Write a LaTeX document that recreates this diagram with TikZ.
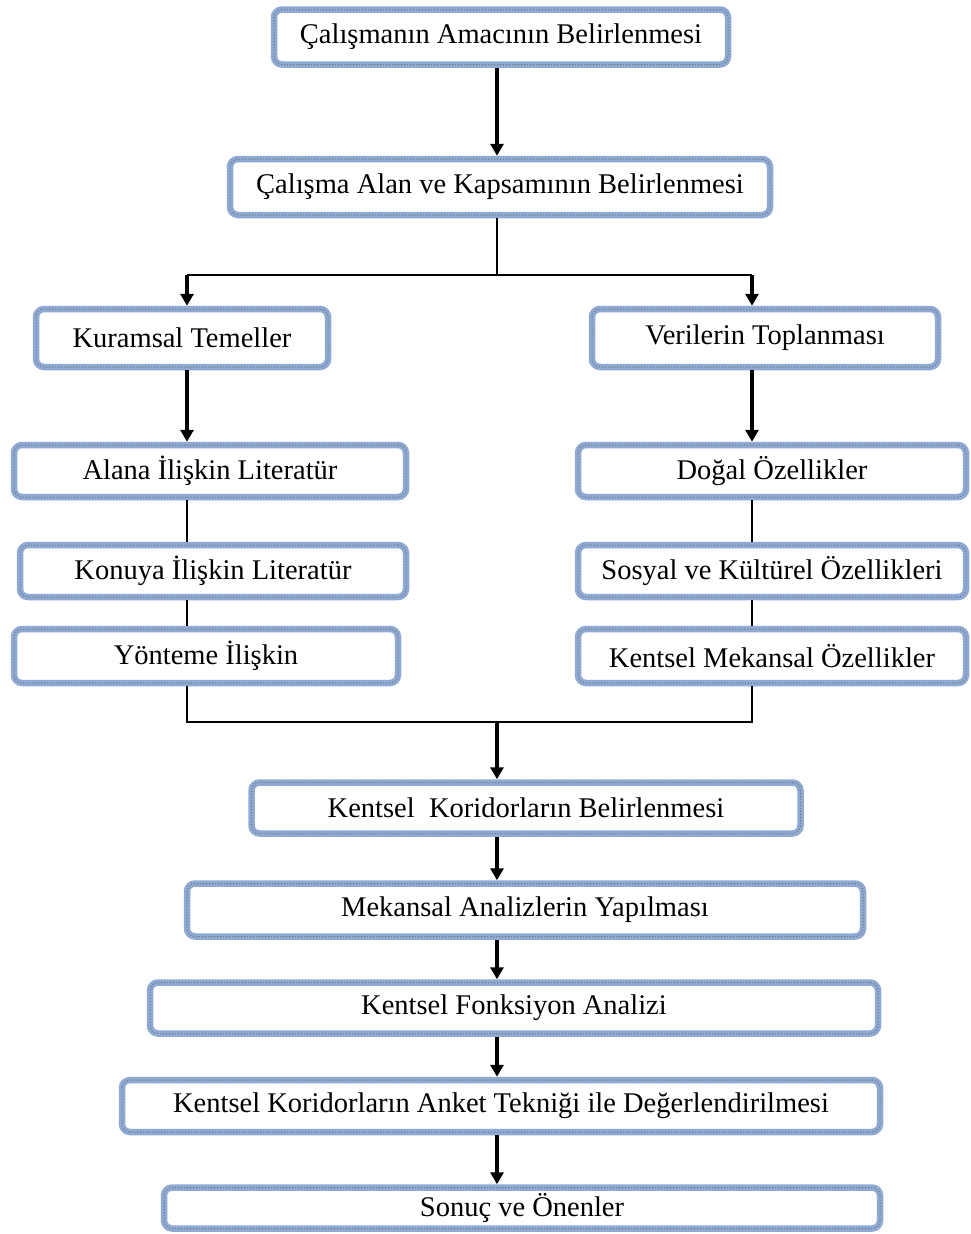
\documentclass[tikz,border=0pt]{standalone}
\usepackage{fontspec}
\setmainfont{Liberation Serif}
\usetikzlibrary{arrows.meta}
\definecolor{boxblue}{HTML}{8EA9D3}
\begin{document}
\begin{tikzpicture}[x=1pt,y=-1pt,
  box/.style={rectangle, rounded corners=8pt, draw=boxblue, line width=6.5pt, fill=white, inner sep=0pt,
    font=\fontsize{28.5}{30}\selectfont,
    postaction={draw=black!55, dotted, line width=1pt}},
  arr/.style={line width=3.6pt, -{Triangle[width=13pt,length=12pt]}},
  thinline/.style={line width=1.6pt}]
\useasboundingbox (0,0) rectangle (970,1234);
\fill[white] (0,0) rectangle (970,1234);
\coordinate (cx) at (497,0);
\coordinate (lx) at (187,0);
\coordinate (rx) at (752,0);
\coordinate (split) at (497,275);
\coordinate (join) at (497,722);

\node[box, minimum width=454pt, minimum height=55pt] (n1) at (501,37) {Çalışmanın Amacının Belirlenmesi};
\node[box, minimum width=540pt, minimum height=56pt] (n2) at (500,187) {Çalışma Alan ve Kapsamının Belirlenmesi};
\node[box, minimum width=292pt, minimum height=58pt] (n3) at (182,338) {Kuramsal Temeller};
\node[box, minimum width=346pt, minimum height=58pt] (n4) at (765,338) {Verilerin Toplanması};
\node[box, minimum width=392pt, minimum height=52pt] (n5) at (210,471) {Alana İlişkin Literatür};
\node[box, minimum width=386pt, minimum height=52pt] (n6) at (213,571) {Konuya İlişkin Literatür};
\node[box, minimum width=384pt, minimum height=54pt] (n7) at (206,656) {Yönteme İlişkin};
\node[box, minimum width=388pt, minimum height=52pt] (n8) at (772,471) {Doğal Özellikler};
\node[box, minimum width=388pt, minimum height=52pt] (n9) at (772,571) {Sosyal ve Kültürel Özellikleri};
\node[box, minimum width=388pt, minimum height=54pt] (n10) at (772,656) {Kentsel Mekansal Özellikler};
\node[box, minimum width=549pt, minimum height=51pt] (n11) at (526,808) {Kentsel\ \ Koridorların Belirlenmesi};
\node[box, minimum width=676pt, minimum height=53pt] (n12) at (525,910) {Mekansal Analizlerin Yapılması};
\node[box, minimum width=728pt, minimum height=51pt] (n13) at (514,1008) {Kentsel Fonksiyon Analizi};
\node[box, minimum width=758pt, minimum height=52pt] (n14) at (501,1106) {Kentsel Koridorların Anket Tekniği ile Değerlendirilmesi};
\node[box, minimum width=716pt, minimum height=41pt] (n15) at (522,1208) {Sonuç ve Önenler};

\draw[arr] (n1.south -| cx) -- (n2.north -| cx);
\draw[thinline] (n2.south -| cx) -- (split);
\draw[thinline] (split -| lx) -- (split -| rx);
\draw[arr] (split -| lx) -- (n3.north -| lx);
\draw[arr] (split -| rx) -- (n4.north -| rx);
\draw[arr] (n3.south -| lx) -- (n5.north -| lx);
\draw[arr] (n4.south -| rx) -- (n8.north -| rx);
\draw[thinline] (n5.south -| lx) -- (n6.north -| lx);
\draw[thinline] (n6.south -| lx) -- (n7.north -| lx);
\draw[thinline] (n8.south -| rx) -- (n9.north -| rx);
\draw[thinline] (n9.south -| rx) -- (n10.north -| rx);
\draw[thinline] (n7.south -| lx) -- (join -| lx) -- (join -| rx) -- (n10.south -| rx);
\draw[arr] (join) -- (n11.north -| cx);
\draw[arr] (n11.south -| cx) -- (n12.north -| cx);
\draw[arr] (n12.south -| cx) -- (n13.north -| cx);
\draw[arr] (n13.south -| cx) -- (n14.north -| cx);
\draw[arr] (n14.south -| cx) -- (n15.north -| cx);
\end{tikzpicture}
\end{document}
